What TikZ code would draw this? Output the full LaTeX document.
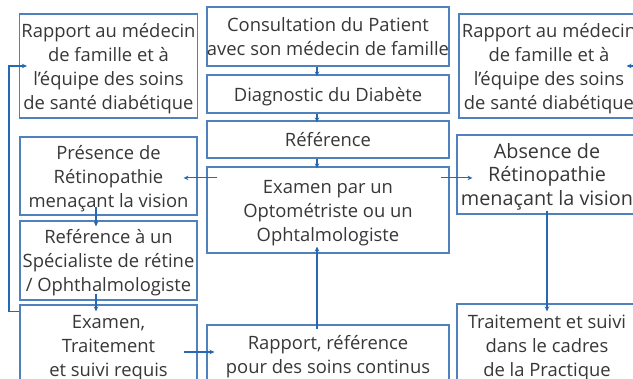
\documentclass[tikz,border=0pt]{standalone}
\usepackage{fontspec}
\setmainfont{Open Sans}
\usetikzlibrary{calc,arrows.meta}
\definecolor{boxblue}{RGB}{79,129,189}
\definecolor{lineblue}{RGB}{40,104,176}
\definecolor{txt}{RGB}{55,55,55}
\newcommand{\bxt}[1]{\raisebox{-2.5pt}[\height][\depth]{\begin{tabular}{@{}c@{}}#1\end{tabular}}}
\tikzset{
  box/.style={draw=boxblue, line width=1.1pt, rectangle, text=txt,
    font=\fontsize{18.4}{24}\selectfont, inner sep=0pt},
  bigbox/.style={box, font=\fontsize{19.8}{23.5}\selectfont},
  conn/.style={draw=lineblue, line width=1.1pt, -{Stealth[length=5pt,width=4.5pt]}}
}
\begin{document}
\begin{tikzpicture}[x=1pt,y=-1pt]
\useasboundingbox (0,0) rectangle (633,379);
\clip (0,0) rectangle (633,379);
% left column
\node[box, minimum width=178pt, minimum height=104pt] (L1) at (108.5,66) {\bxt{Rapport au médecin\\de famille et à\\l’équipe des soins\\de santé diabétique}};
\node[box, minimum width=177pt, minimum height=78pt] (L2) at (108.5,176) {\bxt{Présence de\\Rétinopathie\\menaçant la vision}};
\node[box, minimum width=177pt, minimum height=79pt] (L3) at (108.5,260.5) {\bxt{Reférence à un\\Spécialiste de rétine\\/ Ophthalmologiste}};
\node[box, minimum width=177pt, minimum height=80pt] (L4) at (108.5,345) {\bxt{Examen,\\Traitement\\et suivi requis}};
% centre column
\node[box, minimum width=242pt, minimum height=59pt] (C1) at (328,36.5) {\bxt{Consultation du Patient\\avec son médecin de famille}};
\node[box, minimum width=242pt, minimum height=38pt] (C2) at (328,94) {\bxt{Diagnostic du Diabète}};
\node[box, minimum width=242pt, minimum height=37pt] (C3) at (328,139.5) {\bxt{Référence}};
\node[box, minimum width=242pt, minimum height=86pt] (C4) at (328,210) {\bxt{Examen par un\\Optométriste ou un\\Ophtalmologiste}};
\node[box, minimum width=242pt, minimum height=59pt] (C5) at (328,354.5) {\bxt{Rapport, référence\\pour des soins continus}};
% right column
\node[box, minimum width=180pt, minimum height=104pt] (R1) at (549,66) {\bxt{Rapport au médecin\\de famille et à\\l’équipe des soins\\de santé diabétique}};
\node[bigbox, minimum width=180pt, minimum height=79pt] (R2) at (547,174.5) {\bxt{Absence de\\Rétinopathie\\menaçant la vision}};
\node[box, minimum width=180pt, minimum height=82pt] (R3) at (547,345) {\bxt{Traitement et suivi\\dans le cadres\\de la Practique}};
% connectors
\draw[conn] ($(C1.south)+(-11,0)$) -- ($(C2.north)+(-11,2)$);
\draw[conn] ($(C2.south)+(-11,0)$) -- ($(C3.north)+(-11,2)$);
\draw[conn] ($(C3.south)+(-11,0)$) -- ($(C4.north)+(-11,2)$);
\draw[conn] ($(C4.north west)+(11,11.5)$) -- ($(L2.north east)+(-14,41.5)$);
\draw[conn] ($(C4.north east)+(-9,11.5)$) -- ($(R2.north west)+(16,43.5)$);
\draw[conn] ($(L2.south)+(-12.5,-9)$) -- ($(L3.north)+(-12.5,6)$);
\draw[conn] ($(L3.south)+(-12.5,-7)$) -- ($(L4.north)+(-12.5,7)$);
\draw[conn] ($(L4.east)+(-14,7)$) -- ($(C5.west)+(8,-2.5)$);
\draw[conn] ($(C5.north)+(-11,5)$) -- ($(C4.south)+(-11,-7)$);
\draw[conn] ($(R2.south)+(0,-4)$) -- ($(R3.north)+(0,8)$);
\draw[conn] ($(L4.north west)+(0,7)$) -| ($(L1.west)+(-10,0)$) -- ($(L1.west)+(8,0)$);
\draw[conn] ($(R3.north east)+(0,7)$) -| ($(R1.east)+(12,0)$) -- ($(R1.east)+(-13,0)$);
\end{tikzpicture}
\end{document}
